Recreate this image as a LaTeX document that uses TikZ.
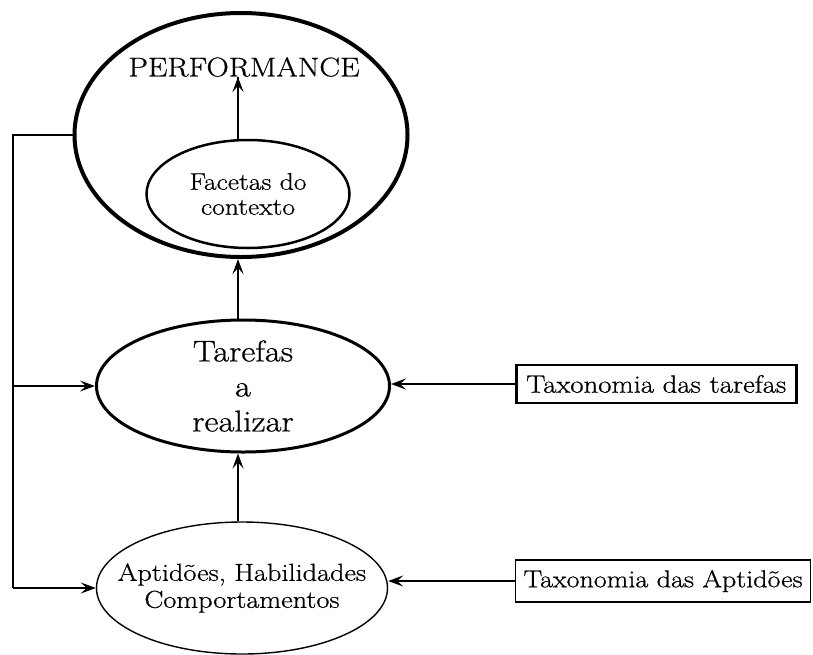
\documentclass[tikz,border=0pt]{standalone}
\usepackage{fontspec}
\setmainfont{Latin Modern Roman}[FakeStretch=1.15,FakeBold=0.7]
\usetikzlibrary{shapes.geometric,arrows.meta}
\begin{document}
\begin{tikzpicture}[x=1pt,y=-1pt,
  ell/.style={ellipse,draw,inner sep=0pt},
  box/.style={draw,inner sep=0pt,anchor=west},
  arr/.style={-{Stealth[length=15pt,width=11pt,inset=6pt]}},
  txt/.style={align=center,inner sep=0pt}]
\useasboundingbox (0,0) rectangle (813,654);
% big ellipse
\node[ell,line width=4pt,minimum width=333pt,minimum height=244pt] (perfE) at (241,135) {};
\node[txt,font=\fontsize{27}{30}\selectfont] (perf) at (244,67) {PERFORMANCE};
\node[ell,line width=2.5pt,minimum width=203pt,minimum height=108pt] (facet) at (248,194) {};
\node[txt,font=\fontsize{24}{25}\selectfont] (facetT) at (facet.center) {Facetas do\\contexto};
% middle ellipse
\node[ell,line width=3pt,minimum width=293pt,minimum height=132pt] (tar) at (243,386) {};
\node[txt,font=\fontsize{30}{35}\selectfont] (tarT) at (tar.center) {Tarefas\\a\\realizar};
% bottom ellipse
\node[ell,line width=1.4pt,minimum width=291pt,minimum height=132pt] (apt) at (242,588) {};
\node[txt,font=\fontsize{24.6}{27}\selectfont] (aptT) at (apt.center) {Aptidões, Habilidades\\Comportamentos};
% boxes
\node[box,line width=2.5pt,minimum width=280pt,minimum height=38pt,font=\fontsize{25}{26}\selectfont] (tt) at (515,384) {Taxonomia das tarefas};
\node[box,line width=1.2pt,minimum width=295pt,minimum height=42pt,font=\fontsize{24.4}{26}\selectfont] (ta) at (515,581) {Taxonomia das Aptidões};
% vertical arrows
\coordinate (fx) at (238,0);
\draw[arr,line width=2.5pt] (facet.north -| fx) -- (fx |- perf.south) ++(0,0);
\draw[arr,line width=2.5pt] (tar.north -| fx) -- (fx |- perfE.south);
\draw[arr,line width=1.4pt] (apt.north -| fx) -- (fx |- tar.south);
% left feedback line
\coordinate (L) at (13,0);
\draw[line width=1.4pt] (perfE.west) -- (perfE.west -| L) -- (apt.west -| L);
\draw[arr,line width=1.4pt] (tar.west -| L) -- (tar.west);
\draw[arr,line width=1.4pt] (apt.west -| L) -- (apt.west);
% right arrows
\draw[arr,line width=2.5pt] (tt.west) -- (tt.west -| tar.east);
\draw[arr,line width=1.4pt] (ta.west) -- (ta.west -| apt.east);
\end{tikzpicture}
\end{document}
